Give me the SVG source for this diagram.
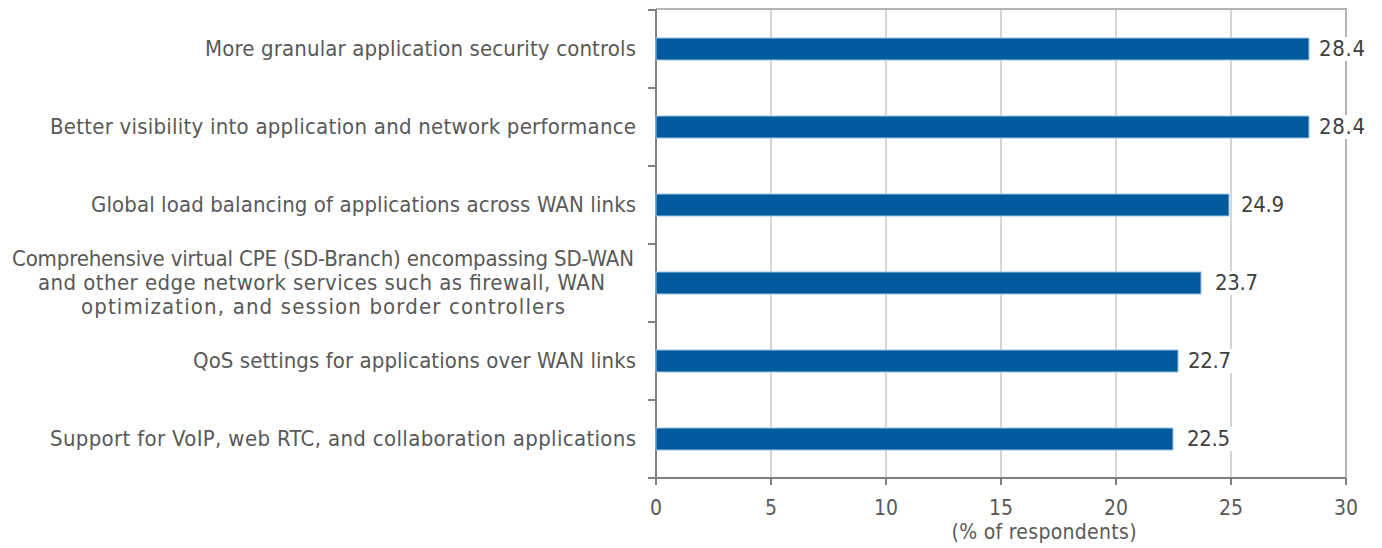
<svg xmlns="http://www.w3.org/2000/svg" width="1382" height="548" viewBox="0 0 1382 548">
<style>
.lbl{font-family:"DejaVu Sans Condensed","DejaVu Sans",sans-serif;font-size:22px;fill:#595959;text-anchor:end}
.lblc{font-family:"DejaVu Sans Condensed","DejaVu Sans",sans-serif;font-size:22px;fill:#595959;text-anchor:middle}
.val{font-family:"DejaVu Sans Condensed","DejaVu Sans",sans-serif;font-size:22px;fill:#404040}
.tick{font-family:"DejaVu Sans Condensed","DejaVu Sans",sans-serif;font-size:21px;fill:#595959;text-anchor:middle}
.grid{stroke:#c8c8c8;stroke-width:1.5}
.bar{fill:#005a9c;stroke:#9cc3e5;stroke-width:1}
.axis{stroke:#7f7f7f;stroke-width:2;fill:none}
.frame{stroke:#b4b4b4;stroke-width:2;fill:none}
.bg{fill:#ffffff}
</style>
<rect width="1382" height="548" fill="#ffffff"/>
<g id="grid">
<line class="grid" x1="771" y1="9" x2="771" y2="478"/>
<line class="grid" x1="886" y1="9" x2="886" y2="478"/>
<line class="grid" x1="1001" y1="9" x2="1001" y2="478"/>
<line class="grid" x1="1116" y1="9" x2="1116" y2="478"/>
<line class="grid" x1="1231" y1="9" x2="1231" y2="478"/>
</g>
<g id="frame">
<path class="frame" d="M656 9 H1346 V478"/>
</g>
<g id="axes">
<path class="axis" d="M656 9 V478 H1346"/>
<path class="axis" d="M648 10 H656 M648 88 H656 M648 166 H656 M648 244 H656 M648 322 H656 M648 400 H656 M648 478 H656"/>
<path class="axis" d="M656 478 V485 M771 478 V485 M886 478 V485 M1001 478 V485 M1116 478 V485 M1231 478 V485 M1346 478 V485"/>
</g>
<g id="bar1">
<rect class="bar" x="656" y="38" width="653" height="22"/>
<rect class="bg" x="1315" y="37" width="54" height="24"/>
<text class="val" x="1319" y="56" textLength="46">28.4</text>
<text class="lbl" x="636" y="56" textLength="431">More granular application security controls</text>
</g>
<g id="bar2">
<rect class="bar" x="656" y="116" width="653" height="22"/>
<rect class="bg" x="1315" y="115" width="54" height="24"/>
<text class="val" x="1319" y="134" textLength="46">28.4</text>
<text class="lbl" x="636" y="134" textLength="586">Better visibility into application and network performance</text>
</g>
<g id="bar3">
<rect class="bg" x="1238" y="193" width="48" height="24"/>
<rect class="bar" x="656" y="194" width="573" height="22"/>
<text class="val" x="1241" y="212" textLength="43">24.9</text>
<text class="lbl" x="636" y="212" textLength="545">Global load balancing of applications across WAN links</text>
</g>
<g id="bar4">
<rect class="bg" x="1212" y="271" width="48" height="24"/>
<rect class="bar" x="656" y="272" width="545" height="22"/>
<text class="val" x="1215" y="290" textLength="43">23.7</text>
<text class="lblc" x="323" y="266" textLength="622">Comprehensive virtual CPE (SD-Branch) encompassing SD-WAN</text>
<text class="lblc" x="321.5" y="290" textLength="567">and other edge network services such as firewall, WAN</text>
<text class="lblc" x="323" y="314" textLength="484">optimization, and session border controllers</text>
</g>
<g id="bar5">
<rect class="bg" x="1185" y="349" width="48" height="24"/>
<rect class="bar" x="656" y="350" width="522" height="22"/>
<text class="val" x="1188" y="368" textLength="43">22.7</text>
<text class="lbl" x="636" y="368" textLength="443">QoS settings for applications over WAN links</text>
</g>
<g id="bar6">
<rect class="bg" x="1184" y="427" width="48" height="24"/>
<rect class="bar" x="656" y="428" width="517" height="22"/>
<text class="val" x="1187" y="446" textLength="43">22.5</text>
<text class="lbl" x="636" y="446" textLength="586">Support for VoIP, web RTC, and collaboration applications</text>
</g>
<g id="xlabels">
<text class="tick" x="656" y="515">0</text>
<text class="tick" x="771" y="515">5</text>
<text class="tick" x="886" y="515">10</text>
<text class="tick" x="1001" y="515">15</text>
<text class="tick" x="1116" y="515">20</text>
<text class="tick" x="1231" y="515">25</text>
<text class="tick" x="1346" y="515">30</text>
<text class="tick" x="1044" y="539" textLength="185">(% of respondents)</text>
</g>
</svg>
